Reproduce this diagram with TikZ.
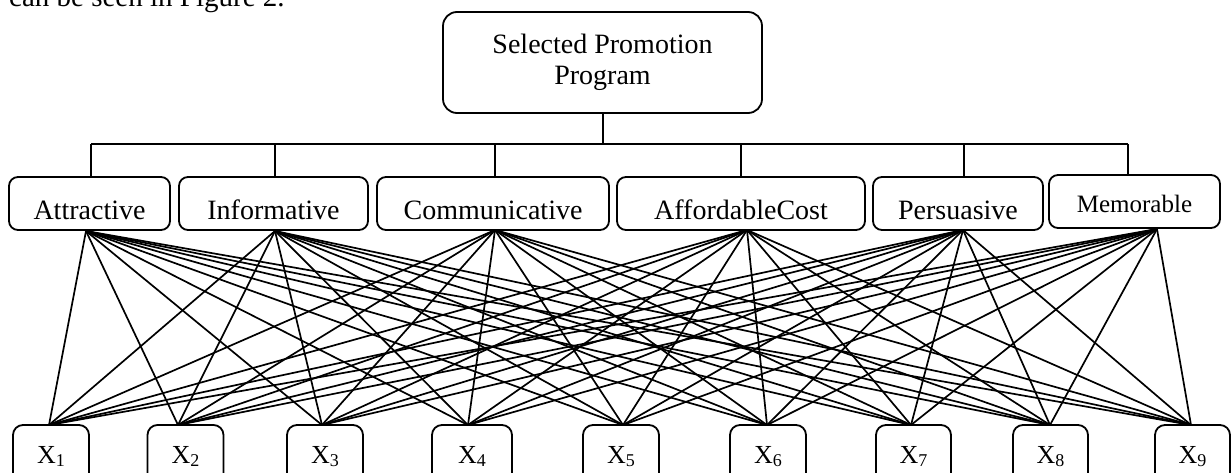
\documentclass[tikz,border=0pt]{standalone}
\usepackage{fontspec}
\setmainfont{Liberation Serif}
\begin{document}
\begin{tikzpicture}[x=1pt,y=-1pt,
  boxline/.style={draw=black, line width=1.8pt},
  topbox/.style={boxline, rounded corners=14pt, minimum width=319pt, minimum height=101pt, inner sep=0pt, align=center, font=\fontsize{28}{31}\selectfont},
  midbox/.style={boxline, rounded corners=9pt, minimum height=53pt, inner sep=0pt, text height=31pt, text depth=0pt, font=\fontsize{28}{31}\selectfont},
  membox/.style={boxline, rounded corners=9pt, minimum height=53pt, inner sep=0pt, text height=23pt, text depth=0pt, font=\fontsize{25}{28}\selectfont},
  xbox/.style={boxline, rounded corners=10pt, minimum width=76pt, minimum height=65pt, inner sep=0pt, text height=11pt, text depth=0pt, font=\fontsize{26}{28}\selectfont},
  conn/.style={draw=black, line width=1.7pt},
  web/.style={draw=black, line width=1.7pt}
]
\useasboundingbox (0,0) rectangle (1231,473);
\begin{scope}
\clip (0,0) rectangle (1231,473);
% cut-off text line at top
\node[anchor=base west, inner sep=0pt, font=\fontsize{29}{32}\selectfont] (intro) at (9,7) {can be seen in Figure 2.};

% top box
\node[topbox] (top) at (602.5,62.5) {Selected Promotion\\Program};

% criteria boxes
\node[midbox, minimum width=161pt] (att) at (89.5,203.5) {Attractive};
\node[midbox, minimum width=189pt] (inf) at (273.5,203.5) {Informative};
\node[midbox, minimum width=232pt] (com) at (493,203.5) {Communicative};
\node[midbox, minimum width=248pt] (aff) at (741,203.5) {AffordableCost};
\node[midbox, minimum width=170pt] (per) at (958,203.5) {Persuasive};
\node[membox, minimum width=171pt] (mem) at (1134.5,201.5) {Memorable};

% alternative boxes
\node[xbox] (x1) at (51,457.5) {X\raisebox{-3pt}{\fontsize{18}{18}\selectfont 1}};
\node[xbox] (x2) at (185.5,457.5) {X\raisebox{-3pt}{\fontsize{18}{18}\selectfont 2}};
\node[xbox] (x3) at (325,457.5) {X\raisebox{-3pt}{\fontsize{18}{18}\selectfont 3}};
\node[xbox, minimum width=80pt] (x4) at (472,457.5) {X\raisebox{-3pt}{\fontsize{18}{18}\selectfont 4}};
\node[xbox] (x5) at (621,457.5) {X\raisebox{-3pt}{\fontsize{18}{18}\selectfont 5}};
\node[xbox] (x6) at (768,457.5) {X\raisebox{-3pt}{\fontsize{18}{18}\selectfont 6}};
\node[xbox, minimum width=75pt] (x7) at (913.5,457.5) {X\raisebox{-3pt}{\fontsize{18}{18}\selectfont 7}};
\node[xbox, minimum width=75pt] (x8) at (1050.5,457.5) {X\raisebox{-3pt}{\fontsize{18}{18}\selectfont 8}};
\node[xbox, minimum width=75pt] (x9) at (1192.5,457.5) {X\raisebox{-3pt}{\fontsize{18}{18}\selectfont 9}};
\end{scope}

% tree connectors
\coordinate (bus) at (603,144);
\coordinate (dA) at (91,144);
\coordinate (dI) at (275,144);
\coordinate (dC) at (495,144);
\coordinate (dF) at (741,144);
\coordinate (dP) at (964,144);
\coordinate (dM) at (1128,144);
\draw[conn] (top.south -| bus) -- (bus);
\draw[conn] (dA) -- (dM);
\draw[conn] (dA) -- (dA |- att.north);
\draw[conn] (dI) -- (dI |- inf.north);
\draw[conn] (dC) -- (dC |- com.north);
\draw[conn] (dF) -- (dF |- aff.north);
\draw[conn] (dP) -- (dP |- per.north);
\draw[conn] (dM) -- (dM |- mem.north);

% connection points
\coordinate (oatt) at (86,231);
\coordinate (oinf) at (275,231);
\coordinate (ocom) at (495,230);
\coordinate (oaff) at (747,230);
\coordinate (oper) at (963,230);
\coordinate (omem) at (1157,229);
\coordinate (t1) at (49,425);
\coordinate (t2) at (178,425);
\coordinate (t3) at (322,425);
\coordinate (t4) at (468,425);
\coordinate (t5) at (623,425);
\coordinate (t6) at (767,425);
\coordinate (t7) at (911,425);
\coordinate (t8) at (1050,425);
\coordinate (t9) at (1191,425);

\foreach \o in {oatt,oinf,ocom,oaff,oper,omem}{
  \foreach \t in {t1,t2,t3,t4,t5,t6,t7,t8,t9}{
    \draw[web] (\o) -- (\t);
  }
}
\end{tikzpicture}
\end{document}
